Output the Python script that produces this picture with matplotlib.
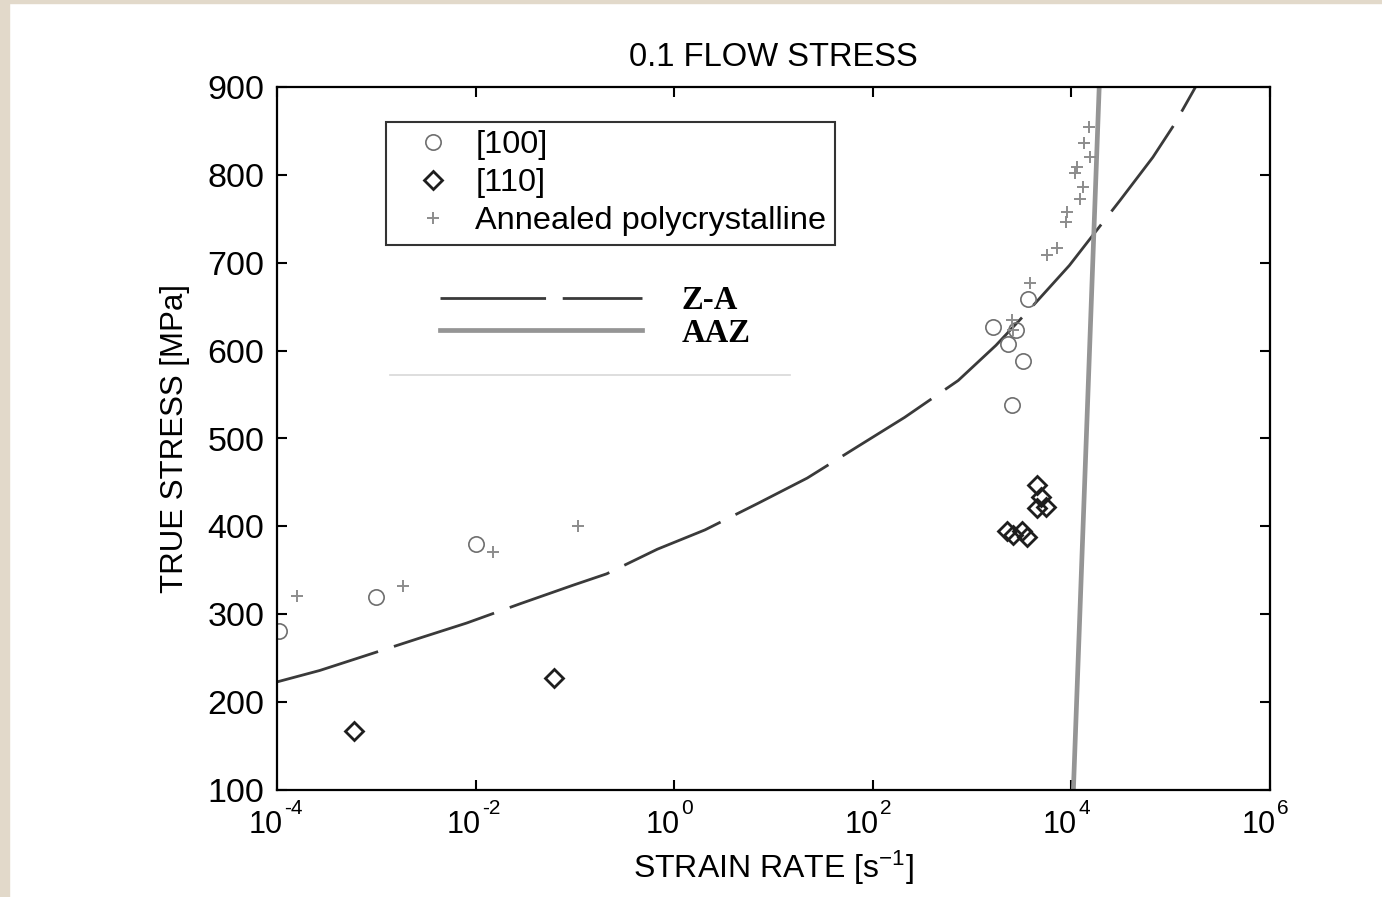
import numpy as np
import matplotlib
matplotlib.use("Agg")
import matplotlib.pyplot as plt
from matplotlib.lines import Line2D
from matplotlib.patches import Rectangle

plt.rcParams['font.family'] = ['Liberation Sans', 'DejaVu Sans']
plt.rcParams['mathtext.fontset'] = 'custom'
plt.rcParams['mathtext.rm'] = 'Liberation Sans'
plt.rcParams['mathtext.default'] = 'regular'

# measured 0.1 flow stress, log10(strain rate) vs true stress [MPa]
rate_100 = [-3.98, -3.0, -2.0, 3.21, 3.36, 3.44, 3.51, 3.40, 3.56]
stress_100 = [281, 320, 380, 627, 608, 623, 588, 538, 659]

rate_110 = [-3.22, -1.21, 3.65, 3.69, 3.65, 3.74, 3.35, 3.41, 3.50, 3.55]
stress_110 = [167, 227, 447, 433, 421, 422, 395, 390, 395, 388]

rate_poly = [-3.80, -2.73, -1.82, -0.97, 4.18, 4.13, 4.19, 4.06, 4.04, 4.12,
             4.09, 3.96, 3.95, 3.75, 3.85, 3.58, 3.40, 3.41]
stress_poly = [321, 332, 371, 400, 854, 836, 820, 809, 802, 786,
               772, 758, 746, 709, 717, 677, 635, 623]

# model predictions
za_rate = [-4.0, -3.57, -3.16, -2.56, -2.09, -1.55, -1.02, -0.68, -0.17, 0.31,
           0.84, 1.34, 1.85, 2.32, 2.86, 3.24, 3.58, 3.98, 4.20, 4.49, 4.82,
           5.04, 5.25]
za_stress = [223, 236, 251, 273, 290, 312, 333, 346, 374, 396,
             426, 455, 491, 524, 566, 606, 647, 697, 729, 771, 820,
             858, 900]

aaz_rate = [4.02, 4.28]
aaz_stress = [100, 900]

xticks = [-4, -2, 0, 2, 4, 6]
yticks = [100, 200, 300, 400, 500, 600, 700, 800, 900]

fig = plt.figure(figsize=(13.82, 8.97), dpi=100)
fig.patch.set_facecolor('white')
# scanned page edge
fig.add_artist(Rectangle((0, 0), 9 / 1382, 1, transform=fig.transFigure,
                         color='#e2d9ca', zorder=0))
fig.add_artist(Rectangle((0, 1 - 3 / 897), 1, 3 / 897, transform=fig.transFigure,
                         color='#e2d9ca', zorder=0))

ax = fig.add_axes([277 / 1382, 1 - 790 / 897, 993 / 1382, 703 / 897])
ax.set_xscale('log')
ax.set_xlim(1e-4, 1e6)
ax.set_ylim(100, 900)

za, = ax.plot(10 ** np.array(za_rate), za_stress, color='#3a3a3a', lw=2.0,
              dashes=(38, 6), label='Z-A')
aaz, = ax.plot(10 ** np.array(aaz_rate), aaz_stress, color='#959595', lw=3.4,
               label='AAZ')

p100, = ax.plot(10 ** np.array(rate_100), stress_100, 'o', ms=11, mfc='none',
                mec='#6e6e6e', mew=1.2, ls='none', label='[100]')
p110, = ax.plot(10 ** np.array(rate_110), stress_110, 'D', ms=9.5, mfc='none',
                mec='#1e1e1e', mew=2.0, ls='none', label='[110]')
ppoly, = ax.plot(10 ** np.array(rate_poly), stress_poly, '+', ms=9,
                 mec='#8c8c8c', mew=1.4, ls='none',
                 label='Annealed polycrystalline')

# decade labels written as 10 with a raised exponent
ax.set_xticks([10.0 ** k for k in xticks])
ax.set_xticklabels([])
ax.xaxis.set_minor_locator(matplotlib.ticker.NullLocator())
for k in xticks:
    ax.annotate('10', xy=(10.0 ** k, 0), xycoords=('data', 'axes fraction'),
                xytext=(4, -31), textcoords='offset points',
                ha='right', va='baseline', fontsize=22)
    ax.annotate('%d' % k, xy=(10.0 ** k, 0), xycoords=('data', 'axes fraction'),
                xytext=(5, -17), textcoords='offset points',
                ha='left', va='baseline', fontsize=15)

ax.set_yticks(yticks)
ax.tick_params(which='both', direction='in', top=True, right=True,
               length=7, width=1.5, labelsize=24.5, pad=9)
for s in ax.spines.values():
    s.set_linewidth(1.6)

ax.set_title('0.1 FLOW STRESS', fontsize=23.6, pad=15)
ax.set_xlabel('STRAIN RATE [s$^{-1}$]', fontsize=23)
ax.xaxis.set_label_coords(0.5, -0.083)
ax.set_ylabel('TRUE STRESS [MPa]', fontsize=22.5)
ax.yaxis.set_label_coords(-0.088, 0.5)

leg1 = ax.legend(handles=[p100, p110, ppoly], loc='upper left',
                 bbox_to_anchor=(386 / 1382, 1 - 122 / 897),
                 bbox_transform=fig.transFigure, fontsize=23.4, frameon=True,
                 fancybox=False, edgecolor='black', handlelength=2.4,
                 handletextpad=0.1, labelspacing=0.25, borderpad=0.25,
                 borderaxespad=0)
leg1.get_frame().set_linewidth(1.5)
ax.add_artist(leg1)

ax.legend(handles=[za, aaz], loc='upper left',
          bbox_to_anchor=(427 / 1382, 1 - 272 / 897),
          bbox_transform=fig.transFigure,
          prop={'family': 'Liberation Serif', 'weight': 'bold', 'size': 23.5},
          frameon=False, handlelength=6.2, handletextpad=1.2,
          labelspacing=0.05, borderaxespad=0)

# faint rule left on the scan
fig.add_artist(Line2D([390 / 1382, 790 / 1382], [1 - 375 / 897, 1 - 375 / 897],
                      color='#d8d8d8', lw=1.2))

fig.savefig('out.png', dpi=100)
